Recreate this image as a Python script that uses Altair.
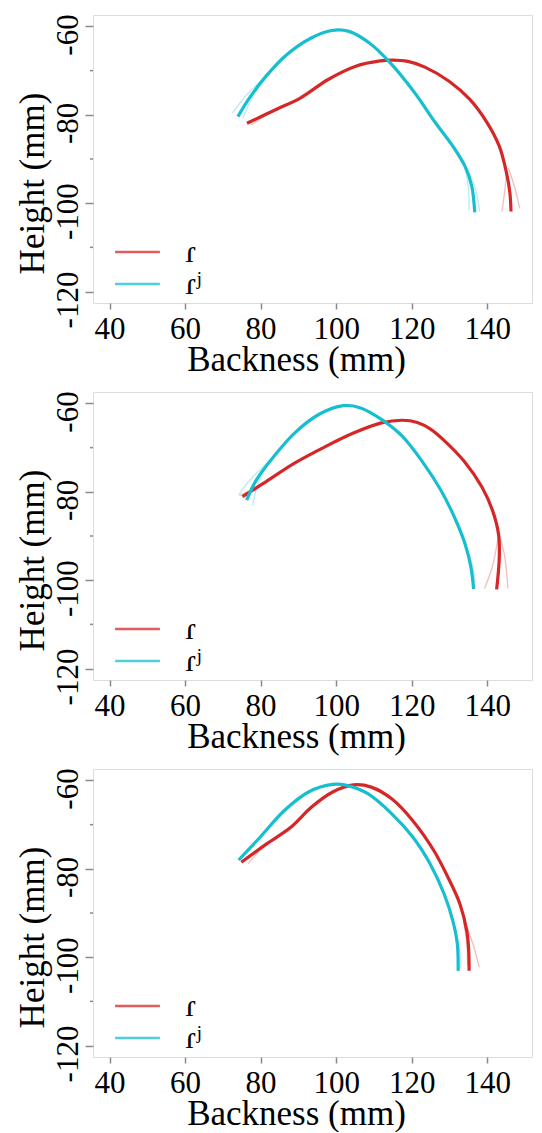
import altair as alt
import pandas as pd

SERIES = ["ɾ", "ɾʲ"]
COLORS = ["#d62728", "#17becf"]
X_TICKS = [40, 60, 80, 100, 120, 140]
Y_TICKS = [-120, -100, -80, -60]
Y_MINOR = [-110, -90, -70]
X_DOMAIN = [35.63, 151.86]
Y_DOMAIN = [-122.6, -57.4]

# ---- panel 1 ----
p1_r_x = [76.4, 84.1, 90.5, 97.9, 105.2, 111.6, 115.0, 119.0, 123.5, 129.9, 135.4, 140.0, 143.2, 145.1, 146.0, 146.3]
p1_r_y = [-81.9, -78.8, -76.2, -72.0, -69.0, -67.8, -67.6, -67.9, -69.2, -72.4, -76.5, -81.8, -87.1, -93.1, -97.6, -101.9]
p1_c_x = [74.0, 76.8, 81.4, 86.9, 93.4, 98.8, 103.4, 108.9, 114.4, 120.8, 126.3, 130.9, 134.1, 135.9, 136.7]
p1_c_y = [-80.4, -76.5, -71.3, -66.4, -62.6, -60.9, -61.1, -63.8, -68.3, -75.0, -81.8, -87.1, -91.6, -96.1, -102.1]
p1_faint = [
    ("ɾ", [145.1, 144.6, 143.9], [-93.1, -97.5, -101.9]),
    ("ɾ", [145.6, 147.4, 148.6], [-92.0, -96.8, -101.2]),
    ("ɾ", [84.1, 80.5, 77.5], [-78.8, -80.6, -82.3]),
    ("ɾʲ", [134.1, 135.0, 135.2], [-91.6, -96.5, -101.7]),
    ("ɾʲ", [134.4, 136.8, 138.0], [-91.6, -96.5, -101.9]),
    ("ɾʲ", [81.4, 76.0, 72.6], [-71.3, -75.8, -79.6]),
    ("ɾʲ", [79.5, 77.0, 75.3], [-73.5, -77.5, -80.7]),
]

# ---- panel 2 ----
p2_r_x = [75.2, 80.7, 89.0, 97.3, 104.6, 112.0, 117.5, 121.5, 125.0, 128.5, 134.0, 138.6, 141.4, 143.0, 143.2, 142.5]
p2_r_y = [-81.1, -78.1, -73.5, -69.7, -66.7, -64.4, -63.8, -64.3, -65.8, -68.3, -73.2, -78.9, -84.2, -89.6, -94.9, -102.1]
p2_c_x = [76.3, 78.9, 83.5, 89.0, 95.4, 101.9, 106.5, 112.0, 117.5, 123.1, 127.7, 131.3, 134.1, 135.7, 136.4]
p2_c_y = [-81.9, -77.3, -72.0, -66.7, -62.5, -60.5, -61.0, -63.6, -67.4, -73.5, -79.6, -85.7, -91.7, -97.1, -102.0]
p2_faint = [
    ("ɾ", [143.0, 141.5, 139.3], [-89.6, -96.5, -101.9]),
    ("ɾ", [143.2, 144.6, 145.5], [-89.6, -94.5, -101.9]),
    ("ɾ", [80.7, 77.0, 74.5], [-78.1, -79.8, -80.8]),
    ("ɾʲ", [83.5, 76.5, 74.2], [-72.0, -78.0, -80.8]),
    ("ɾʲ", [81.5, 79.0, 77.9], [-74.0, -79.0, -83.1]),
    ("ɾʲ", [134.1, 136.2, 136.8], [-91.7, -97.0, -102.0]),
]

# ---- panel 3 ----
p3_r_x = [74.9, 81.5, 88.0, 93.5, 99.1, 104.6, 109.3, 114.8, 120.3, 125.9, 129.6, 132.8, 134.6, 135.1, 135.2]
p3_r_y = [-78.5, -74.4, -70.6, -66.0, -62.6, -61.0, -61.5, -64.2, -69.1, -75.9, -81.9, -88.0, -94.1, -98.5, -103.1]
p3_c_x = [74.2, 79.8, 86.3, 92.7, 99.1, 102.8, 108.4, 114.8, 120.3, 124.9, 128.6, 130.9, 132.1, 132.3]
p3_c_y = [-78.0, -72.9, -66.8, -62.6, -60.9, -61.1, -63.0, -67.6, -72.8, -78.9, -85.7, -91.8, -97.1, -103.1]
p3_faint = [
    ("ɾ", [134.6, 136.5, 137.9], [-93.0, -97.8, -102.3]),
    ("ɾ", [133.8, 134.6, 134.8], [-92.0, -97.0, -101.8]),
    ("ɾ", [81.5, 78.5, 76.7], [-74.4, -77.0, -78.9]),
    ("ɾʲ", [130.9, 132.5, 133.0], [-91.8, -97.0, -102.5]),
]

PANELS = [
    (p1_r_x, p1_r_y, p1_c_x, p1_c_y, p1_faint),
    (p2_r_x, p2_r_y, p2_c_x, p2_c_y, p2_faint),
    (p3_r_x, p3_r_y, p3_c_x, p3_c_y, p3_faint),
]

FONT = "Liberation Serif"

xscale = alt.Scale(domain=X_DOMAIN, nice=False, zero=False)
yscale = alt.Scale(domain=Y_DOMAIN, nice=False, zero=False)
cscale = alt.Scale(domain=SERIES, range=COLORS)

xaxis = alt.Axis(
    values=X_TICKS, title="Backness (mm)", grid=False, domain=False,
    tickSize=6, tickColor="#8a8a8a", tickWidth=1.5,
    labelFont=FONT, labelFontSize=31, labelColor="black", labelBaseline="alphabetic",
    labelPadding=29, labelFlush=False,
    titleFont=FONT, titleFontSize=35, titleFontWeight="normal", titleColor="black",
    titleBaseline="alphabetic", titleX=203, titleY=67, titleAlign="center",
)
yaxis = alt.Axis(
    values=Y_TICKS, title="Height (mm)", grid=False, domain=False,
    tickSize=8, tickColor="#8a8a8a", tickWidth=1.5,
    labelExpr="datum.value + ''",
    labelFont=FONT, labelFontSize=31, labelColor="black", labelAngle=270,
    labelAlign="center", labelBaseline="alphabetic", labelPadding=8, labelOffset=8,
    labelFlush=False,
    titleFont=FONT, titleFontSize=35, titleFontWeight="normal", titleColor="black",
    titleAngle=270, titleBaseline="alphabetic", titleX=-50, titleY=168, titleAlign="center",
)
legend = alt.Legend(
    orient="none", legendX=28.5, legendY=221, title=None,
    symbolType="M-1.6,0H1.6", symbolSize=784, symbolStrokeWidth=2.5, symbolOpacity=0.75,
    labelFont=FONT, labelFontSize=32, labelColor="black", labelOffset=32,
    padding=0, rowPadding=0, labelLimit=0,
)


def panel(rx, ry, cx, cy, faint):
    rows = []
    for s, xs, ys in ((SERIES[0], rx, ry), (SERIES[1], cx, cy)):
        for i, (xv, yv) in enumerate(zip(xs, ys)):
            rows.append({"s": s, "i": i, "x": xv, "y": yv})
    main_df = pd.DataFrame(rows)
    frows = []
    for k, (s, xs, ys) in enumerate(faint):
        for i, (xv, yv) in enumerate(zip(xs, ys)):
            frows.append({"s": s, "seg": k, "i": i, "x": xv, "y": yv})
    faint_df = pd.DataFrame(frows)
    minor_df = pd.DataFrame({"y": Y_MINOR})

    X = alt.X("x:Q", scale=xscale, axis=xaxis)
    Y = alt.Y("y:Q", scale=yscale, axis=yaxis)
    C = alt.Color("s:N", scale=cscale, legend=legend)

    faint_layer = alt.Chart(faint_df).mark_line(
        strokeWidth=1.3, opacity=0.3, interpolate="catmull-rom"
    ).encode(x=X, y=Y, color=C, detail="seg:N", order=alt.Order("i:Q"))
    main_layer = alt.Chart(main_df).mark_line(
        strokeWidth=3.2, interpolate="catmull-rom"
    ).encode(x=X, y=Y, color=C, order=alt.Order("i:Q"))
    minor_layer = alt.Chart(minor_df).mark_rule(color="#8a8a8a", strokeWidth=1.5).encode(
        y=Y, x=alt.value(-3), x2=alt.value(0)
    )
    return alt.layer(faint_layer, main_layer, minor_layer).properties(width=439, height=288)


chart = alt.vconcat(*[panel(*p) for p in PANELS], spacing=12).resolve_scale(
    color="independent"
).resolve_legend(color="independent").properties(
    padding={"left": 6, "top": 5, "right": 0, "bottom": 0}
).configure_view(
    stroke="#b8b8b8", strokeWidth=2
).configure(font=FONT)

chart.save("out.html", embed_options={"renderer": "svg", "actions": False})
